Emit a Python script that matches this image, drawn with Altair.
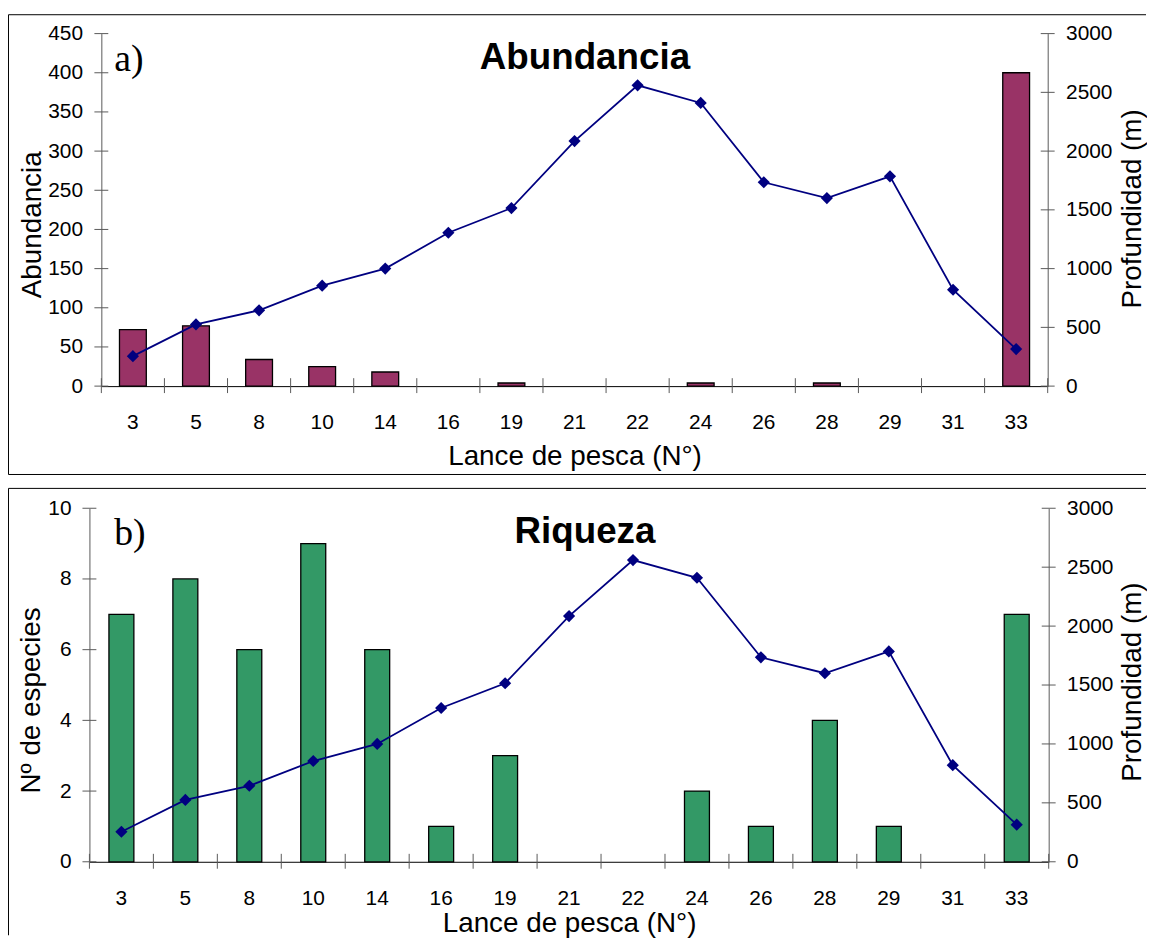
import altair as alt
import pandas as pd

# ---------------- data ----------------
lances = ["3", "5", "8", "10", "14", "16", "19", "21", "22", "24", "26", "28", "29", "31", "33"]
abundancia = [72, 77, 34, 25, 18, 0, 4, 0, 0, 4, 0, 4, 0, 0, 400]
riqueza = [7, 8, 6, 9, 6, 1, 3, 0, 0, 2, 1, 4, 1, 0, 7]
profundidad = [255, 525, 645, 855, 1000, 1305, 1515, 2085, 2560, 2410, 1735, 1600, 1785, 820, 315]

abund_ticks = [0, 50, 100, 150, 200, 250, 300, 350, 400, 450]
riq_ticks = [0, 2, 4, 6, 8, 10]
prof_ticks = [0, 500, 1000, 1500, 2000, 2500, 3000]

FONT = "Liberation Sans"
SERIF = "Liberation Serif"
GRAY = "#5a5a5a"
NAVY = "#000080"

df = pd.DataFrame({"lance": lances, "abund": abundancia, "riq": riqueza, "prof": profundidad})
one = pd.DataFrame({"k": [0]})


def make_panel(field, ticks, ymax, ytitle, bar_color, band, W, H, x0, label, title, g, bottom_edge):
    xscale = alt.Scale(domain=lances, range=[x0, W], paddingInner=0, paddingOuter=0)
    xaxis = alt.Axis(ticks=False, tickSize=0, labelAngle=0, labelPadding=26, labelFontSize=21,
                     labelFont=FONT, labelColor="black", domainColor="black", domainWidth=1,
                     grid=False, titleFont=FONT, titleFontSize=28, titleFontWeight="normal",
                     titleColor="black", titleBaseline="alphabetic", titleY=g["xty"])

    def X(bp=None):
        kw = dict(scale=xscale, axis=xaxis, title="Lance de pesca (N°)")
        if bp is not None:
            kw["bandPosition"] = bp
        return alt.X("lance:N", **kw)

    lscale = alt.Scale(domain=[0, ymax], nice=False, zero=True)
    laxis = alt.Axis(orient="left", offset=-x0, values=ticks, ticks=False, tickSize=0, format="d",
                     labelPadding=g["lpad"], labelFontSize=21, labelFont=FONT, labelColor="black",
                     domainColor=GRAY, domainWidth=1, grid=False, titleFont=FONT, titleFontSize=28,
                     titleFontWeight="normal", titleColor="black", titleAngle=270,
                     titleAlign="center", titleBaseline="alphabetic",
                     titleX=g["ltx"], titleY=g["lty"])
    Yl = alt.Y(f"{field}:Q", scale=lscale, axis=laxis, title=ytitle)

    bars = alt.Chart(df).transform_filter(f"datum.{field} > 0").mark_bar(
        color=bar_color, stroke="black", strokeWidth=1.3,
        width=alt.RelativeBandSize(band=band)).encode(x=X(), y=Yl)
    lt = alt.Chart(pd.DataFrame({field: ticks})).mark_rule(color=GRAY, strokeWidth=1).encode(
        y=Yl, x=alt.value(x0 - 7), x2=alt.value(x0 + 7))

    rscale = alt.Scale(domain=[0, 3000], nice=False, zero=True)
    raxis = alt.Axis(orient="right", values=prof_ticks, ticks=False, tickSize=0, labelPadding=18,
                     format="d",
                     labelFontSize=21, labelFont=FONT, labelColor="black", domainColor=GRAY,
                     domainWidth=1, grid=False, titleFont=FONT, titleFontSize=28,
                     titleFontWeight="normal", titleColor="black", titleAngle=270,
                     titleAlign="center", titleBaseline="alphabetic",
                     titleX=g["rtx"], titleY=g["rty"])
    Yr = alt.Y("prof:Q", scale=rscale, axis=raxis, title="Profundidad (m)")

    line = alt.Chart(df).mark_line(color=NAVY, strokeWidth=1.8).encode(x=X(), y=Yr)
    pts = alt.Chart(df).mark_point(shape="diamond", filled=True, size=150, color=NAVY,
                                   opacity=1).encode(x=X(), y=Yr)
    rt = alt.Chart(pd.DataFrame({"prof": prof_ticks})).mark_rule(color=GRAY, strokeWidth=1).encode(
        y=Yr, x=alt.value(W - 7), x2=alt.value(W + 7))

    xt = alt.Chart(pd.DataFrame({"lance": lances})).mark_rule(color=GRAY, strokeWidth=1).encode(
        x=X(0), y=alt.value(H - 8), y2=alt.value(H + 7))
    xe = alt.Chart(pd.DataFrame({"lance": [lances[-1]]})).mark_rule(color=GRAY, strokeWidth=1).encode(
        x=X(1), y=alt.value(H - 8), y2=alt.value(H + 7))

    frames = [
        alt.Chart(one).mark_rule(color="black", strokeWidth=1).encode(
            x=alt.value(-81.5), x2=alt.value(g["fr"]), y=alt.value(g["ft"])),
        alt.Chart(one).mark_rule(color="black", strokeWidth=1).encode(
            x=alt.value(-81.5), y=alt.value(g["ft"]), y2=alt.value(g["fb"])),
    ]
    if bottom_edge:
        frames.append(alt.Chart(one).mark_rule(color="black", strokeWidth=1).encode(
            x=alt.value(-81.5), x2=alt.value(g["fr"]), y=alt.value(g["fb"])))

    lab = alt.Chart(one).mark_text(text=label, font=SERIF, fontSize=38, align="left",
                                   baseline="alphabetic", color="black").encode(
        x=alt.value(g["lx"]), y=alt.value(g["ly"]))
    tit = alt.Chart(one).mark_text(text=title, font=FONT, fontSize=37, fontWeight="bold",
                                   align="center", baseline="alphabetic", color="black").encode(
        x=alt.value(g["tx"]), y=alt.value(g["ty"]))

    left = alt.layer(bars, lt)
    right = alt.layer(line, pts, rt)
    return alt.layer(left, right, xt, xe, *frames, lab, tit).resolve_scale(
        y="independent").properties(width=W, height=H)


g_top = dict(xty=78.7, ltx=-61.5, lty=192, lpad=19, rtx=93, rty=176, ft=-19, fb=444,
             fr=1064, lx=25, ly=38, tx=499, ty=35.7)
g_bot = dict(xty=70, ltx=-50, lty=193, lpad=18.5, rtx=92, rty=174.5, ft=-20, fb=430,
             fr=1064, lx=25, ly=37, tx=499, ty=35.3)

top = make_panel("abund", abund_ticks, 450, "Abundancia", "#993366", 0.425, 965, 355, 12,
                 "a)", "Abundancia", g_top, True)
bottom = make_panel("riq", riq_ticks, 10, "Nº de especies", "#339966", 0.39, 966, 356, 0,
                    "b)", "Riqueza", g_bot, False)

chart = alt.vconcat(top, bottom, spacing=12).properties(
    padding={"left": 0, "top": 2.5, "right": 0, "bottom": 0},
    background="white",
).configure_view(stroke=None)

chart.save("out.html", embed_options={"renderer": "svg", "actions": False})
